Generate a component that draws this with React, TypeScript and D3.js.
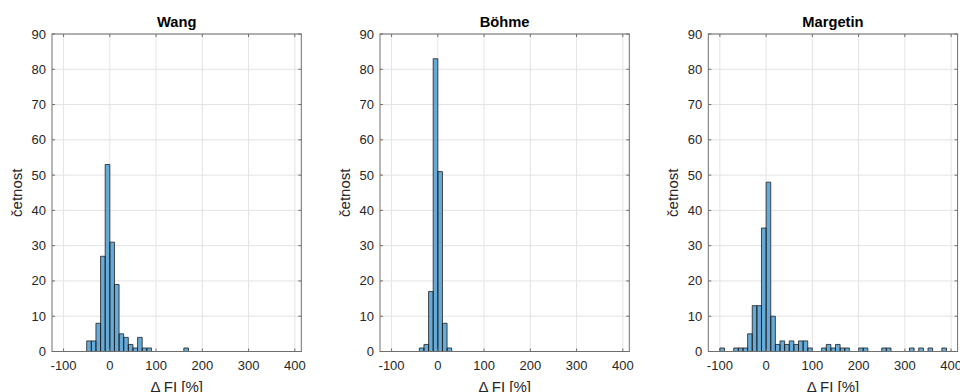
import React from "react";
import * as d3 from "d3";

const panelTitles = ["Wang", "Böhme", "Margetin"];
const binStart = -100;
const binWidth = 10;
const wangCounts = [0,0,0,0,0, 3,3,8,27,53, 31,19,5,4,2, 1,4,1,1,0, 0,0,0,0,0, 0,1,0,0,0, 0,0,0,0,0, 0,0,0,0,0, 0,0,0,0,0, 0,0,0,0];
const bohmeCounts = [0,0,0,0,0, 0,1,2,17,83, 51,8,1,0,0, 0,0,0,0,0, 0,0,0,0,0, 0,0,0,0,0, 0,0,0,0,0, 0,0,0,0,0, 0,0,0,0,0, 0,0,0,0];
const margetinCounts = [1,0,0,1,1, 1,5,13,13,35, 48,10,2,3,2, 3,2,3,3,1, 0,0,1,2,1, 2,1,1,0,0, 1,1,0,0,0, 1,1,0,0,0, 0,1,0,1,0, 1,0,0,1];
const xTicks = [-100, 0, 100, 200, 300, 400];
const yTicks = [0, 10, 20, 30, 40, 50, 60, 70, 80, 90];
const xLabel = "Δ FI [%]";
const yLabel = "četnost";

const allCounts = [wangCounts, bohmeCounts, margetinCounts];

const W = 960, H = 392;
const axLefts = [52, 380, 708.3];
const axW = 249.3;
const axTop = 34;
const axBottom = 351.5;
const font = "'Liberation Sans', Arial, Helvetica, sans-serif";
const axisColor = "#262626";

function Panel({ idx }: { idx: number }) {
  const left = axLefts[idx];
  const x = d3.scaleLinear().domain([-125, 414]).range([left, left + axW]);
  const y = d3.scaleLinear().domain([0, 90]).range([axBottom, axTop]);
  const counts = allCounts[idx];
  const path = d3.path();
  counts.forEach((c, i) => {
    const x0 = x(binStart + i * binWidth);
    const x1 = x(binStart + (i + 1) * binWidth);
    const y0 = y(0);
    const y1 = y(c);
    path.moveTo(x0, y0);
    path.lineTo(x0, y1);
    path.lineTo(x1, y1);
    path.lineTo(x1, y0);
    path.closePath();
  });
  const right = left + axW;
  const tl = 3;
  return (
    <g>
      {xTicks.map((t) => (
        <line key={"gx" + t} x1={x(t)} x2={x(t)} y1={axTop} y2={axBottom} stroke="#e3e3e3" strokeWidth={1} />
      ))}
      {yTicks.map((t) => (
        <line key={"gy" + t} x1={left} x2={right} y1={y(t)} y2={y(t)} stroke="#e3e3e3" strokeWidth={1} />
      ))}
      <path d={path.toString()} fill="#66aad7" stroke="#1f1f1f" strokeWidth={0.8} />
      <rect x={left} y={axTop} width={axW} height={axBottom - axTop} fill="none" stroke="#6e6e6e" strokeWidth={1} />
      {xTicks.map((t) => (
        <g key={"tx" + t}>
          <line x1={x(t)} x2={x(t)} y1={axBottom} y2={axBottom - tl} stroke="#6e6e6e" />
          <line x1={x(t)} x2={x(t)} y1={axTop} y2={axTop + tl} stroke="#6e6e6e" />
          <text x={x(t)} y={370} textAnchor="middle" fontSize={13} fontFamily={font} fill={axisColor}>{t}</text>
        </g>
      ))}
      {yTicks.map((t) => (
        <g key={"ty" + t}>
          <line x1={left} x2={left + tl} y1={y(t)} y2={y(t)} stroke="#6e6e6e" />
          <line x1={right} x2={right - tl} y1={y(t)} y2={y(t)} stroke="#6e6e6e" />
          <text x={left - 6} y={y(t)} dy="0.35em" textAnchor="end" fontSize={13} fontFamily={font} fill={axisColor}>{t}</text>
        </g>
      ))}
      <text x={left + axW / 2} y={27} textAnchor="middle" fontSize={14.7} fontWeight="bold" fontFamily={font} fill="#000">{panelTitles[idx]}</text>
      <text x={left + axW / 2} y={392} textAnchor="middle" fontSize={15} fontFamily={font} fill={axisColor}>{xLabel}</text>
      <text transform={`translate(${left - 30},${(axTop + axBottom) / 2}) rotate(-90)`} textAnchor="middle" fontSize={15} fontFamily={font} fill={axisColor}>{yLabel}</text>
    </g>
  );
}

export default function App() {
  return (
    <svg width={W} height={H} style={{ position: "absolute", left: 0, top: 0, background: "#fff" }}>
      <rect width={W} height={H} fill="#fff" />
      {[0, 1, 2].map((i) => <Panel key={i} idx={i} />)}
    </svg>
  );
}
